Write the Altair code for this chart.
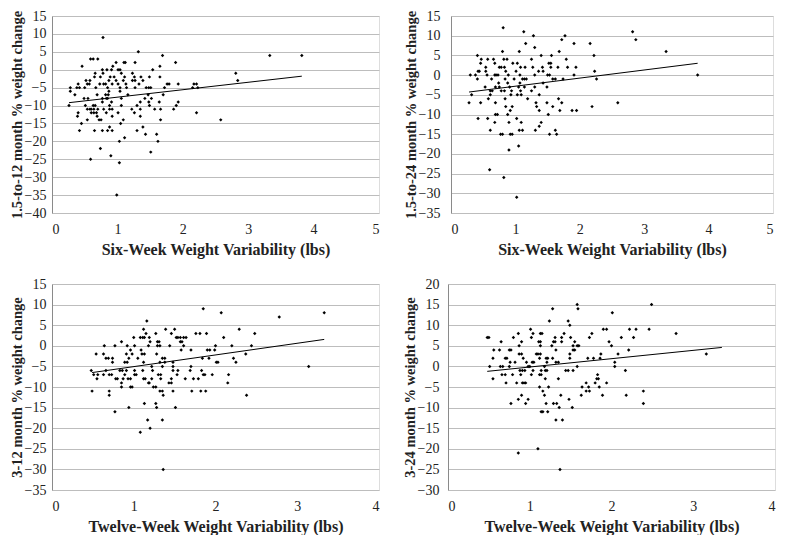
import altair as alt
import pandas as pd

# ---- Panel 1: six-week variability vs 1.5-to-12 month % weight change ----
p1_points = {
    9: [0.78],
    5: [1.32],
    4: [1.69, 3.33, 3.82],
    3: [0.59, 0.63, 0.70],
    2: [0.98, 1.10, 1.12, 1.27, 1.89],
    1: [0.46, 0.93, 1.65],
    0: [0.77, 0.84, 0.91, 1.01, 1.04, 1.54],
    -1: [0.66, 0.78, 1.06, 1.23, 2.81],
    -2: [0.65, 0.74, 0.89, 0.95, 1.11, 1.26, 1.36, 1.49, 1.65],
    -3: [0.52, 0.58, 0.87, 0.98, 1.09, 1.23, 1.27, 1.39, 2.84],
    -4: [0.40, 0.54, 0.57, 0.73, 0.79, 0.82, 0.92, 1.01, 1.13, 1.33, 1.76, 1.79, 1.93, 2.17, 2.21],
    -5: [0.28, 0.38, 0.42, 0.50, 0.67, 0.85, 1.04, 1.14, 1.27, 1.44, 1.48, 1.51, 1.72, 2.15, 2.23],
    -6: [0.28, 0.87, 1.04],
    -7: [0.35, 0.69, 0.82, 0.86, 1.16, 1.47, 1.70],
    -8: [0.49, 0.55, 0.77, 0.83, 0.85, 1.06, 1.42, 1.52],
    -9: [0.77, 0.91, 1.35, 1.48, 1.64, 1.93],
    -10: [0.26, 0.51, 0.63, 0.66, 0.88, 1.06, 1.30, 1.49, 1.90],
    -11: [0.54, 0.58, 0.60, 0.64, 0.70, 0.79, 0.88, 0.92, 1.22, 1.35, 1.57, 1.66, 1.86],
    -12: [0.40, 0.60, 0.64, 0.68, 0.83, 1.01, 1.26, 2.21],
    -13: [0.39, 0.69, 0.92, 1.35],
    -14: [0.54, 0.72, 0.75, 1.09, 1.66, 2.58],
    -15: [0.45, 1.05],
    -16: [0.88, 1.39],
    -17: [0.42, 0.65, 0.77, 0.85, 0.92, 1.30],
    -18: [1.43, 1.60],
    -19: [1.11],
    -20: [1.03, 1.62],
    -22: [0.74],
    -23: [1.51],
    -24: [0.90],
    -25: [0.59],
    -26: [1.03],
    -35: [0.99],
}
p1_trend_x = [0.26, 3.82]
p1_trend_y = [-9.2, -1.8]

# ---- Panel 2: six-week variability vs 1.5-to-24 month % weight change ----
p2_points = {
    12: [0.81],
    11: [1.13, 2.82],
    10: [1.28, 1.77],
    9: [1.72, 2.87],
    8: [1.16, 1.91, 2.16],
    7: [1.30],
    6: [0.80, 1.06, 1.68, 3.34],
    5: [0.41, 1.40, 1.56, 2.22],
    4: [0.47, 0.57, 0.66, 0.82, 0.87, 1.25, 1.79],
    3: [0.46, 0.68, 0.96, 1.03, 1.52, 1.55],
    2: [0.54, 0.75, 0.78, 0.83, 1.08, 1.15, 1.27, 1.42, 1.55, 1.66, 1.81, 1.94],
    1: [0.42, 0.44, 0.54, 0.85, 1.01, 1.36, 1.43, 2.23],
    0: [0.30, 0.38, 0.56, 0.68, 0.70, 0.73, 0.89, 1.07, 1.30, 1.50, 1.53, 1.91, 3.83],
    -1: [0.41, 0.63, 0.84, 0.98, 1.11, 1.14, 1.17, 1.58, 1.62, 1.74, 2.26],
    -2: [0.74, 0.88, 1.07, 1.43],
    -3: [0.53, 0.69, 0.75, 0.91, 1.05, 1.14, 1.30, 1.49],
    -4: [0.61, 0.64, 0.78, 0.83, 0.94, 1.08, 1.25],
    -5: [0.32, 0.61, 0.93, 1.03, 1.09, 1.37],
    -6: [0.58, 0.84, 1.19, 1.67],
    -7: [0.28, 0.46, 0.69, 1.32, 1.49, 1.72, 2.59],
    -8: [0.85, 0.95, 1.33, 1.58, 2.19],
    -9: [0.92, 1.37, 1.69, 1.88, 1.95],
    -10: [0.69, 0.72, 0.88, 1.51],
    -11: [0.42, 0.57, 1.02],
    -12: [0.68, 0.90, 1.09, 1.40],
    -13: [1.37],
    -14: [0.61, 1.06, 1.11, 1.31, 1.62],
    -15: [0.77, 0.80, 0.92, 0.95, 1.53, 1.64],
    -18: [1.05],
    -19: [0.90],
    -24: [0.60],
    -26: [0.82],
    -31: [1.02],
}
p2_trend_x = [0.28, 3.83]
p2_trend_y = [-4.3, 3.0]

# ---- Panel 3: twelve-week variability vs 3-12 month % weight change ----
p3_points = {
    9: [1.85],
    8: [2.07, 3.33],
    7: [2.78],
    6: [1.16],
    4: [1.12, 1.39, 1.50, 2.29],
    3: [1.15, 1.27, 1.46, 1.76, 1.81, 1.89, 2.48],
    2: [1.00, 1.08, 1.11, 1.13, 1.19, 1.52, 1.54, 1.57, 1.61, 1.64, 2.10],
    1: [0.85, 1.20, 1.29, 1.31, 1.57, 1.59],
    0: [0.64, 0.77, 0.92, 1.01, 1.18, 1.29, 1.32, 1.44, 1.61, 2.00, 2.20, 2.44],
    -1: [0.96, 1.09, 1.58, 1.70, 1.90, 1.93, 1.99],
    -2: [0.54, 0.63, 0.91, 0.98, 1.10, 1.13, 1.28, 2.37],
    -3: [0.66, 0.69, 0.74, 0.94, 1.05, 1.35, 1.38, 1.84, 1.92, 2.22],
    -4: [0.74, 0.89, 0.92, 1.12, 1.32, 1.38, 1.48, 2.01, 2.03, 2.25],
    -5: [1.22, 1.35, 1.48, 1.70, 3.14],
    -6: [0.48, 0.66, 0.83, 0.86, 0.91, 1.01, 1.11, 1.23, 1.48, 1.54, 1.69, 1.83],
    -7: [0.51, 0.56, 0.63, 0.70, 0.73, 0.89, 1.01, 1.03, 1.30, 1.33, 1.53, 1.85, 1.87, 1.96, 2.16],
    -8: [0.55, 0.78, 0.80, 0.87, 0.93, 0.96, 1.12, 1.14, 1.22, 1.33, 1.46, 1.63, 1.73, 1.79],
    -9: [0.85, 1.18, 1.19, 1.43, 1.46, 2.15],
    -10: [0.85, 0.96, 0.98, 1.24, 1.27],
    -11: [0.49, 0.70, 1.32, 1.35, 1.48, 1.71, 1.82, 1.88],
    -12: [0.70, 1.36, 2.38],
    -14: [1.13, 1.27],
    -15: [0.94, 1.28, 1.51],
    -16: [0.77],
    -18: [1.17, 1.35],
    -20: [1.20],
    -21: [1.08],
    -30: [1.36],
}
p3_trend_x = [0.49, 3.33]
p3_trend_y = [-6.5, 1.55]

# ---- Panel 4: twelve-week variability vs 3-24 month % weight change ----
p4_points = {
    15: [1.58, 2.49],
    14: [1.28, 1.59],
    13: [2.01],
    11: [1.24, 1.47],
    10: [1.49],
    9: [1.01, 1.90, 1.94, 2.22, 2.30, 2.46],
    8: [0.86, 1.04, 1.13, 1.15, 1.42, 1.76, 2.79],
    7: [0.48, 0.50, 0.80, 1.02, 1.31, 1.39, 1.50, 1.73, 2.12, 2.27],
    6: [0.65, 0.90, 1.11, 1.13, 1.29, 1.31, 1.39, 1.55, 1.97],
    5: [0.87, 1.13, 1.27, 1.53, 1.58, 1.60, 2.00],
    4: [0.56, 0.63, 0.75, 0.77, 1.32, 1.53, 1.55, 2.21],
    3: [0.87, 0.90, 1.08, 1.10, 1.13, 1.49, 1.87, 2.08, 3.16],
    2: [0.55, 0.70, 0.72, 0.92, 1.12, 1.20, 1.22, 1.28, 1.49, 1.71, 1.78, 1.86],
    1: [0.76, 0.82, 0.96, 1.03, 1.05, 1.21, 1.32, 1.35, 2.04],
    0: [0.51, 0.64, 0.67, 0.75, 0.98, 1.00, 1.18, 1.58, 2.04],
    -1: [0.88, 0.91, 0.94, 1.04, 1.14, 1.19, 1.21, 1.44, 1.47, 1.53, 2.17],
    -2: [0.66, 0.70, 0.79, 0.89, 1.02, 1.12, 1.14, 1.83],
    -3: [0.55, 1.19, 1.35, 1.82, 1.84],
    -4: [0.71, 0.84, 0.91, 0.93, 0.95, 1.69, 1.80, 1.94],
    -5: [1.12, 1.23, 1.64, 1.72, 1.85],
    -6: [1.16, 1.69, 1.73, 2.39],
    -7: [0.90, 1.18, 1.38, 1.63, 1.89, 2.18],
    -8: [0.86, 0.98, 1.48],
    -9: [0.77, 0.95, 1.20, 1.29, 1.33, 2.39],
    -10: [1.36, 1.52],
    -11: [1.14, 1.16, 1.22],
    -13: [1.32, 1.40],
    -20: [1.10],
    -21: [0.86],
    -25: [1.37],
}
p4_trend_x = [0.48, 3.35]
p4_trend_y = [-1.2, 4.6]

FONT = "Liberation Serif"
GRID = "#bdbdbd"
AXIS = "#8a8a8a"


def to_df(d):
    rows = [(x, y) for y, xs in d.items() for x in xs]
    return pd.DataFrame(rows, columns=["x", "y"])


def panel(pts, tx, ty, xmax, ymin, ymax, xtitle, ytitle, w, h, lpad):
    df = to_df(pts)
    tdf = pd.DataFrame({"x": tx, "y": ty})
    xsc = alt.Scale(domain=[0, xmax], nice=False, zero=False)
    ysc = alt.Scale(domain=[ymin, ymax], nice=False, zero=False)
    xax = alt.Axis(values=list(range(0, xmax + 1)), format="d", labelOverlap=False,
                   title=xtitle, grid=False,
                   domain=False, ticks=False, labelPadding=9, titlePadding=5,
                   labelFontSize=14, titleFontSize=16, titleFontWeight="bold",
                   labelColor="#222", titleColor="#222", labelFont=FONT, titleFont=FONT)
    yax = alt.Axis(values=list(range(ymin, ymax + 1, 5)), format="d", labelOverlap=False,
                   tickCount=len(range(ymin, ymax + 1, 5)),
                   title=ytitle, grid=True,
                   gridColor=GRID, gridWidth=1, domain=True, domainColor=AXIS,
                   ticks=False, labelPadding=lpad, titlePadding=0,
                   labelFontSize=14, titleFontSize=14.5, titleFontWeight="bold",
                   labelColor="#222", titleColor="#222", labelFont=FONT, titleFont=FONT)
    points = alt.Chart(df).mark_point(shape="diamond", filled=True, size=12,
                                      color="black", opacity=1).encode(
        x=alt.X("x:Q", scale=xsc, axis=xax),
        y=alt.Y("y:Q", scale=ysc, axis=yax),
    )
    line = alt.Chart(tdf).mark_line(color="black", strokeWidth=1).encode(
        x=alt.X("x:Q", scale=xsc, axis=xax),
        y=alt.Y("y:Q", scale=ysc, axis=yax),
    )
    return alt.layer(points, line).properties(width=w, height=h)


p1 = panel(p1_points, p1_trend_x, p1_trend_y, 5, -40, 15,
           "Six-Week Weight Variability (lbs)", "1.5-to-12 month % weight change", 327, 197, 6)
p2 = panel(p2_points, p2_trend_x, p2_trend_y, 5, -35, 15,
           "Six-Week Weight Variability (lbs)", "1.5-to-24 month % weight change", 322, 197, 11)
p3 = panel(p3_points, p3_trend_x, p3_trend_y, 4, -35, 15,
           "Twelve-Week Weight Variability (lbs)", "3-12 month % weight change", 327, 206, 6)
p4 = panel(p4_points, p4_trend_x, p4_trend_y, 4, -30, 20,
           "Twelve-Week Weight Variability (lbs)", "3-24 month % weight change", 327, 206, 9)

chart = alt.vconcat(
    alt.hconcat(p1, p2, spacing=22),
    alt.hconcat(p3, p4, spacing=21),
    spacing=18,
).properties(
    padding={"left": 0, "top": 0, "right": 0, "bottom": 0}
).configure_view(stroke=None).configure(font=FONT, background="white")

chart.save("out.html", embed_options={"renderer": "svg", "actions": False})
